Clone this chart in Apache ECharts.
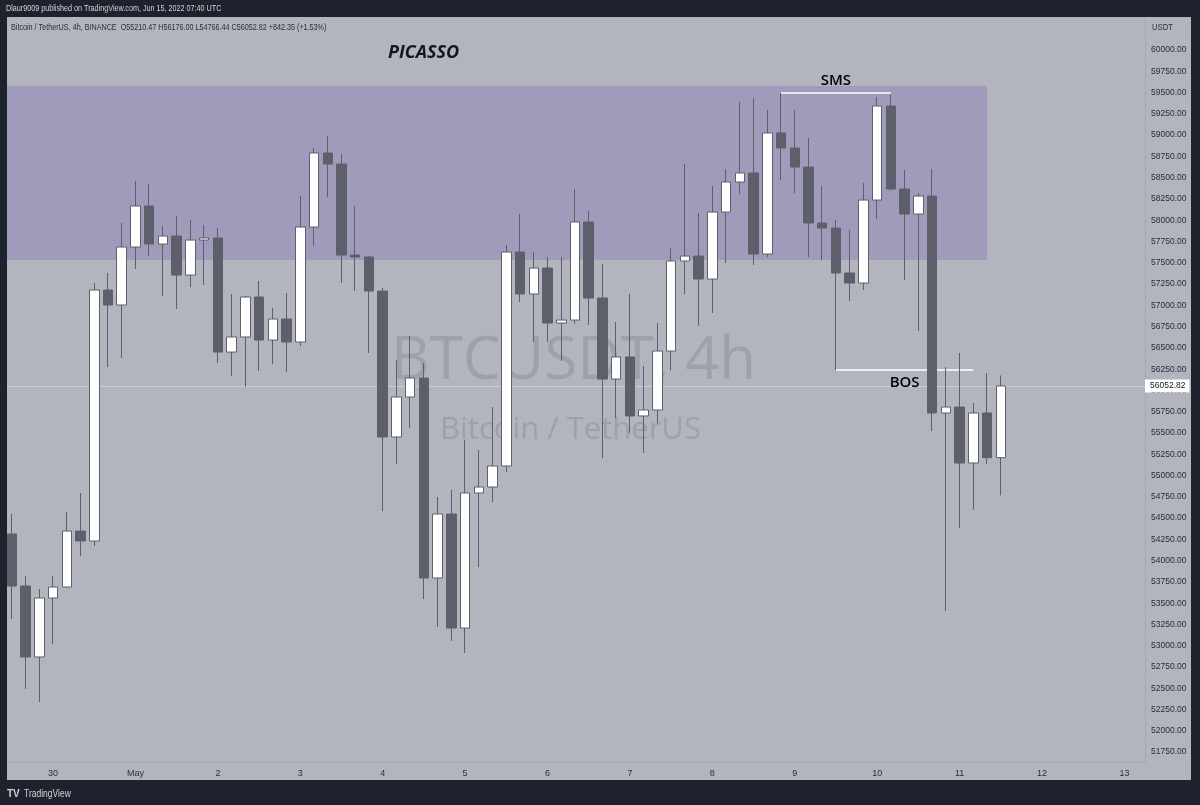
<!DOCTYPE html>
<html>
<head>
<meta charset="utf-8">
<title>BTCUSDT 4h</title>
<script src="https://cdn.jsdelivr.net/npm/echarts@6/dist/echarts.min.js"></script>
<style>
  html, body { margin: 0; padding: 0; background: #1e222d; }
  #chart { width: 1200px; height: 805px; }
</style>
</head>
<body>
<div id="chart"></div>
<script>
// day labels on the time axis, one per day, 6 four-hour candles each
var dayLabels = ['29', '30', 'May', '2', '3', '4', '5', '6', '7', '8', '9', '10', '11', '12', '13']
var hours = ['00:00', '04:00', '08:00', '12:00', '16:00', '20:00']

// candles from Apr 29 12:00 to May 11 12:00
var opens = [54313, 53702, 52868, 53561, 53690, 54348, 54231, 57180, 57004, 57685,
  58167, 57720, 57814, 57356, 57767, 57791, 56451, 56628, 57098, 56592,
  56839, 56569, 57920, 58790, 58660, 57591, 57568, 57168, 55453, 55923,
  56146, 53796, 54548, 53208, 54795, 54865, 55112, 57626, 57133, 57438,
  56792, 56827, 57979, 57086, 56134, 56393, 55700, 55770, 56463, 57521,
  57579, 57309, 58096, 58449, 58555, 57603, 59025, 58848, 58625, 57967,
  57908, 57380, 57262, 58237, 59342, 58367, 58073, 58284, 55735, 55805,
  55147, 55735, 55210.47]
var closes = [53702, 52868, 53561, 53690, 54348, 54231, 57180, 57004, 57685, 58167,
  57720, 57814, 57356, 57767, 57791, 56451, 56628, 57098, 56592, 56839,
  56569, 57920, 58790, 58660, 57591, 57568, 57168, 55453, 55923, 56146,
  53796, 54548, 53208, 54795, 54865, 55112, 57626, 57133, 57438, 56792,
  56827, 57979, 57086, 56134, 56393, 55700, 55770, 56463, 57521, 57579,
  57309, 58096, 58449, 58555, 57603, 59025, 58848, 58625, 57967, 57908,
  57380, 57262, 58237, 59342, 58367, 58073, 58284, 55735, 55805, 55147,
  55735, 55210.47, 56052.82]
var lows = [53314, 52492, 52339, 53020, 53680, 54054, 54172, 56275, 56381, 57427,
  57579, 57109, 56957, 57215, 57239, 56322, 56169, 56040, 56228, 56310,
  56216, 56522, 57697, 58273, 57262, 57168, 56440, 54583, 55135, 55558,
  53549, 53220, 53056, 52915, 53925, 54689, 55041, 57039, 56569, 56569,
  56346, 56780, 56769, 55206, 55676, 55500, 55265, 55617, 56240, 57133,
  56757, 56910, 57497, 58308, 57474, 57568, 58472, 58320, 57568, 57532,
  56240, 57051, 57180, 58014, 58350, 57297, 56698, 55523, 53408, 54383,
  54595, 55135, 54766.44]
var highs = [54548, 53820, 53667, 53820, 54572, 54795, 57262, 57380, 57967, 58461,
  58425, 57932, 58049, 58002, 57944, 57908, 57133, 57110, 57286, 56968,
  57145, 58284, 58848, 58989, 58778, 58167, 57580, 57203, 56357, 56639,
  56322, 54748, 54830, 55417, 55300, 55805, 57709, 58073, 57626, 57568,
  57568, 58367, 58108, 57485, 56804, 57133, 56287, 56792, 57673, 58660,
  58085, 58402, 58602, 59389, 59436, 59295, 59495, 59295, 58966, 58402,
  58002, 57885, 58437, 59448, 59480, 58590, 58320, 58602, 56275, 56440,
  55852, 56205, 56176]

// price axis labels
var yTicks = [51750, 52000, 52250, 52500, 52750, 53000, 53250, 53500, 53750, 54000,
  54250, 54500, 54750, 55000, 55250, 55500, 55750, 56000, 56250, 56500,
  56750, 57000, 57250, 57500, 57750, 58000, 58250, 58500, 58750, 59000,
  59250, 59500, 59750, 60000]

// supply zone and annotation levels
var zoneTop = 59577
var zoneBottom = 57532
var zoneEndIndex = 71
var smsLevel = 59495
var smsFrom = 56, smsTo = 64
var bosLevel = 56240
var bosFrom = 60, bosTo = 70

var cats = []
for (var d = 0; d < dayLabels.length; d++) {
  for (var h = 0; h < hours.length; h++) {
    cats.push(dayLabels[d] + ' ' + hours[h])
  }
}
cats = cats.slice(3, 3 + 83)

var candles = []
for (var i = 0; i < opens.length; i++) {
  candles.push([opens[i], closes[i], lows[i], highs[i]])
}
var lastClose = closes[closes.length - 1]

var sans = '"Liberation Sans", Arial, sans-serif'
var annFont = '"Open Sans", sans-serif'
var chart = echarts.init(document.getElementById('chart'))

chart.setOption({
  animation: false,
  backgroundColor: '#b2b5be',
  grid: { left: 5, right: 55, top: 17, bottom: 43 },
  xAxis: {
    type: 'category',
    data: cats,
    boundaryGap: true,
    axisLine: { show: true, lineStyle: { color: '#a5a8b1', width: 1 } },
    axisTick: { show: false },
    splitLine: { show: false },
    axisLabel: {
      interval: function (idx, val) { return val.indexOf('00:00') > 0 },
      formatter: function (val) { return val.split(' ')[0] },
      color: '#2a2e39',
      fontFamily: sans,
      fontSize: 9,
      margin: 7
    }
  },
  yAxis: {
    type: 'value',
    position: 'right',
    min: 51634,
    max: 60388,
    scale: true,
    axisLine: { show: true, lineStyle: { color: '#a5a8b1', width: 1 } },
    axisTick: { show: false },
    splitLine: { show: false },
    axisLabel: {
      customValues: yTicks,
      formatter: function (v) { return v.toFixed(2) },
      color: '#2a2e39',
      fontFamily: sans,
      fontSize: 8.5,
      margin: 6
    }
  },
  graphic: [
    // watermark
    { type: 'text', left: 391, top: 332, z: 1, silent: true,
      style: { text: 'BTCUSDT, 4h', fill: '#9ea1ab', font: '60px ' + annFont } },
    { type: 'text', left: 440, top: 415, z: 1, silent: true,
      style: { text: 'Bitcoin / TetherUS', fill: '#9ea1ab', font: '31px ' + annFont } },
    { type: 'text', left: 388, top: 44, z: 50,
      style: { text: 'PICASSO', fill: '#131722', font: 'italic bold 18px ' + annFont } },
    // dark frame
    { type: 'rect', z: 100, shape: { x: 0, y: 0, width: 1200, height: 17 }, style: { fill: '#1e222d' } },
    { type: 'rect', z: 100, shape: { x: 0, y: 0, width: 7, height: 805 }, style: { fill: '#1e222d' } },
    { type: 'rect', z: 100, shape: { x: 1191, y: 0, width: 9, height: 805 }, style: { fill: '#1e222d' } },
    { type: 'rect', z: 100, shape: { x: 0, y: 780, width: 1200, height: 25 }, style: { fill: '#1e222d' } },
    { type: 'text', x: 6, y: 4, scaleX: 0.8, z: 101,
      style: { text: 'Dlaur9009 published on TradingView.com, Jun 15, 2022 07:40 UTC', fill: '#d1d4dc', font: '9px ' + sans } },
    { type: 'text', x: 11, y: 23, scaleX: 0.8, z: 101,
      style: { text: 'Bitcoin / TetherUS, 4h, BINANCE  O55210.47 H56176.00 L54766.44 C56052.82 +842.35 (+1.53%)', fill: '#2a2e39', font: '9px ' + sans } },
    { type: 'text', x: 1152, y: 23, scaleX: 0.85, z: 101,
      style: { text: 'USDT', fill: '#2a2e39', font: '9px ' + sans } },
    { type: 'text', x: 7, y: 789, z: 101,
      style: { text: 'TV', fill: '#d1d4dc', font: 'bold 10px ' + sans } },
    { type: 'text', x: 24, y: 789, scaleX: 0.85, z: 101,
      style: { text: 'TradingView', fill: '#d1d4dc', font: '10px ' + sans } }
  ],
  series: [{
    type: 'candlestick',
    data: candles,
    barWidth: 10,
    z: 5,
    itemStyle: {
      color: '#ffffff',
      color0: '#5d606b',
      borderColor: '#5d606b',
      borderColor0: '#5d606b',
      borderWidth: 1
    },
    markArea: {
      silent: true,
      itemStyle: { color: '#a09bbb' },
      data: [[
        { xAxis: -Infinity, yAxis: zoneTop },
        { xAxis: cats[zoneEndIndex], yAxis: zoneBottom }
      ]]
    },
    markLine: {
      silent: true,
      symbol: ['none', 'none'],
      data: [
        [
          { coord: [cats[smsFrom], smsLevel], lineStyle: { color: '#ffffff', width: 1.5, type: 'solid' },
            label: { show: true, position: 'middle', formatter: 'SMS', color: '#000000', fontSize: 15, fontWeight: 600, fontFamily: annFont, distance: 5 } },
          { coord: [cats[smsTo], smsLevel] }
        ],
        [
          { coord: [cats[bosFrom], bosLevel], lineStyle: { color: '#ffffff', width: 1.5, type: 'solid' },
            label: { show: true, position: 'insideMiddleBottom', formatter: 'BOS', color: '#000000', fontSize: 15, fontWeight: 600, fontFamily: annFont, distance: 5 } },
          { coord: [cats[bosTo], bosLevel] }
        ],
        {
          yAxis: lastClose,
          lineStyle: { color: 'rgba(255,255,255,0.35)', width: 1, type: 'solid' },
          label: {
            show: true, position: 'end', distance: 0,
            formatter: function (p) { return p.value.toFixed(2) },
            color: '#131722', backgroundColor: '#ffffff',
            fontFamily: sans, fontSize: 8.5, padding: [2, 4, 2, 5]
          }
        }
      ]
    }
  }]
})
</script>
</body>
</html>
